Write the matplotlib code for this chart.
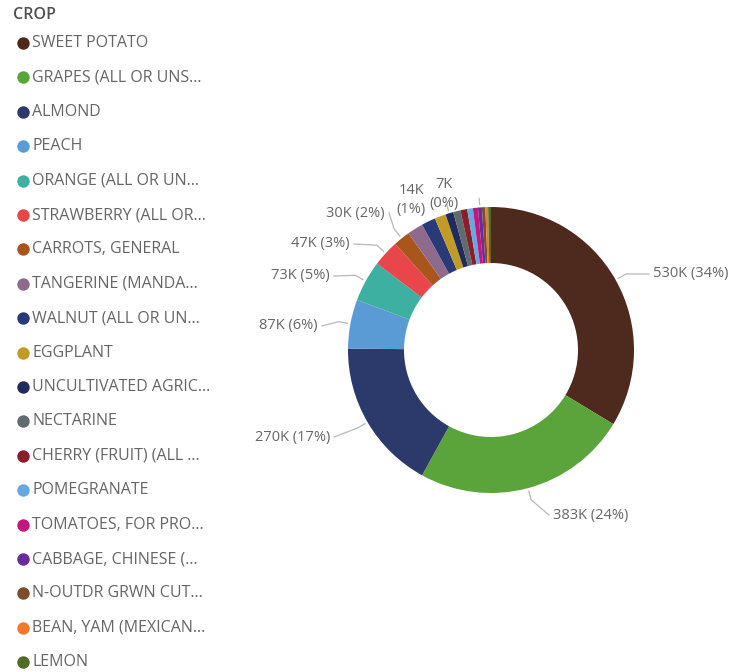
import numpy as np
import matplotlib
matplotlib.use("Agg")
import matplotlib.pyplot as plt

# ---- data (values in thousands) ----
crops = [
    "SWEET POTATO", "GRAPES (ALL OR UNS...", "ALMOND", "PEACH",
    "ORANGE (ALL OR UN...", "STRAWBERRY (ALL OR...", "CARROTS, GENERAL",
    "TANGERINE (MANDA...", "WALNUT (ALL OR UN...", "EGGPLANT",
    "UNCULTIVATED AGRIC...", "NECTARINE", "CHERRY (FRUIT) (ALL ...",
    "POMEGRANATE", "TOMATOES, FOR PRO...", "CABBAGE, CHINESE (...",
    "N-OUTDR GRWN CUT...", "BEAN, YAM (MEXICAN...", "LEMON",
]
values = [530, 383, 270, 87, 73, 47, 30, 28, 25, 20, 14, 13, 12, 10, 9, 7, 6, 5, 5]
colors = [
    "#4E2A1E", "#5BA33B", "#2C3A6B", "#5B9BD5", "#3DB0A2", "#E8464B",
    "#A8561C", "#8E6B8C", "#2A3A78", "#C29B26", "#1F2B5C", "#5F6B6D",
    "#8A1F2C", "#68A7E2", "#C2187C", "#6B2B9B", "#7A4E2A", "#F07A2A", "#4F6B28",
]
# which slices carry a data label
labelled = [0, 1, 2, 3, 4, 5, 6, 10, 15]

# ---- layout ----
W, H = 733, 672
fig = plt.figure(figsize=(W / 100, H / 100), dpi=100)
ax = fig.add_axes([0, 0, 1, 1])

cx, cy, R, ring = 491, H - 350, 143, 56
font = ["Open Sans", "DejaVu Sans"]
txt_col = "#666666"
line_col = "#B8B8B8"

wedges, _ = ax.pie(values, colors=colors, startangle=90, counterclock=False,
                   center=(cx, cy), radius=R, frame=True,
                   wedgeprops=dict(width=ring, linewidth=0))
ax.set_xlim(0, W)
ax.set_ylim(0, H)
ax.set_aspect("equal")
ax.axis("off")

total = sum(values)
# text anchor (x, y from top, ha) for each labelled slice
label_pos = {
    0: (653, 274, "left"), 1: (553, 515, "left"), 2: (330, 437, "right"),
    3: (318, 326, "right"), 4: (330, 276, "right"), 5: (350, 244, "right"),
    6: (385, 213, "right"), 10: (411, 200, "center"), 15: (444, 194, "center"),
}
for i in labelled:
    w = wedges[i]
    mid = np.deg2rad((w.theta1 + w.theta2) / 2)
    v = values[i]
    pct = round(100 * v / total)
    tx, ty, ha = label_pos[i]
    ty = H - ty
    p0 = (cx + (R + 3) * np.cos(mid), cy + (R + 3) * np.sin(mid))
    if ha == "center":
        s = f"{v}K\n({pct}%)"
        p1 = (cx + (R + 9) * np.cos(mid), cy + (R + 9) * np.sin(mid))
        ax.plot([p0[0], p1[0]], [p0[1], p1[1]], color=line_col, lw=0.9)
        ax.text(tx, ty, s, ha="center", va="center", fontsize=10.5,
                color=txt_col, family=font, linespacing=1.35)
    else:
        s = f"{v}K ({pct}%)"
        p1 = (cx + (R + 12) * np.cos(mid), cy + (R + 12) * np.sin(mid))
        ex = tx - 4 if ha == "left" else tx + 4
        ax.plot([p0[0], p1[0], ex], [p0[1], p1[1], ty], color=line_col, lw=0.9)
        ax.text(tx, ty, s, ha=ha, va="center", fontsize=10.5,
                color=txt_col, family=font)

# ---- legend ----
ax.text(13, H - 15, "CROP", ha="left", va="center", fontsize=11.5,
        color="#505050", family=font, fontweight="semibold")
for k, (name, c) in enumerate(zip(crops, colors)):
    y = H - (43 + k * 34.4)
    ax.scatter([23], [y], s=80, color=c, linewidths=0)
    ax.text(32, y, name, ha="left", va="center", fontsize=11.5,
            color=txt_col, family=font)

fig.savefig("out.png", dpi=100)
